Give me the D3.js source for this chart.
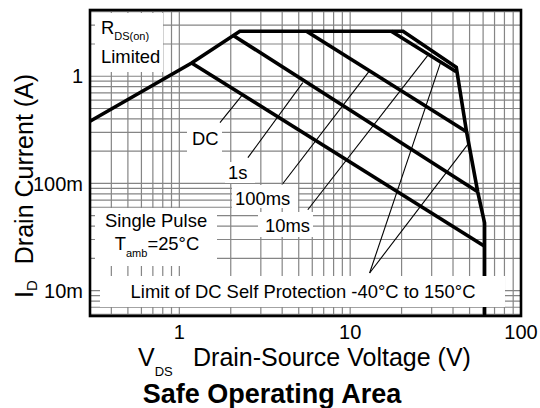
<!DOCTYPE html>
<html>
<head>
<meta charset="utf-8">
<script src="https://cdn.jsdelivr.net/npm/d3@7"></script>
<style>
  body { margin: 0; background: #fff; }
  svg text { font-family: "Liberation Sans", Arial, sans-serif; fill: #000; }
</style>
</head>
<body>
<svg id="chart" width="540" height="408"></svg>
<script>
// axis ticks
const xTickValues = [1, 10, 100];
const xTickLabels = ["1", "10", "100"];
const yTickValues = [0.01, 0.1, 1];
const yTickLabels = ["10m", "100m", "1"];

// [VDS (V), ID (A)]
const envelope = [[0.3, 0.38], [1.18, 1.33], [2.26, 2.63], [20.4, 2.63], [41.8, 1.21],
                  [48.0, 0.304], [55.8, 0.0836], [61.2, 0.0429], [61.2, 0.004]];
const dcLine = [[1.18, 1.33], [61.2, 0.026]];
const line1s = [[2.07, 2.40], [55.8, 0.0836]];
const line100ms = [[5.55, 2.63], [48.0, 0.304]];
const line10ms = [[17.4, 2.63], [41.8, 1.1]];

// leader lines for the labels
const leaders = [
  [[1.73, 0.369], [2.32, 0.66]],
  [[2.52, 0.174], [5.28, 0.873]],
  [[4.03, 0.0993], [13.0, 1.13]],
  [[5.65, 0.0568], [28.4, 1.56]],
  [[13.0, 0.0146], [33.8, 1.34]],
  [[13.0, 0.0146], [48.7, 0.23]]
];

const svg = d3.select("#chart");
const margin = {top: 10, right: 19, bottom: 92, left: 90};
const width = 540 - margin.left - margin.right;
const height = 408 - margin.top - margin.bottom;

const x = d3.scaleLog().domain([0.3, 100]).range([0, width]);
const y = d3.scaleLog().domain([0.0058, 4.15]).range([height, 0]);

const g = svg.append("g").attr("transform", `translate(${margin.left},${margin.top})`);

g.append("clipPath").attr("id", "clip")
  .append("rect").attr("width", width).attr("height", height);

// grid
const grid = g.append("g").attr("stroke", "#858585").attr("stroke-width", 1.2);
grid.selectAll(".vx").data(x.ticks()).enter().append("line")
  .attr("x1", d => x(d)).attr("x2", d => x(d))
  .attr("y1", 0).attr("y2", height);
grid.selectAll(".hy").data(y.ticks()).enter().append("line")
  .attr("y1", d => y(d)).attr("y2", d => y(d))
  .attr("x1", 0).attr("x2", width);

const line = d3.line().x(d => x(d[0])).y(d => y(d[1]));
const plot = g.append("g").attr("clip-path", "url(#clip)");

plot.selectAll(".leader").data(leaders).enter().append("path")
  .attr("d", line).attr("fill", "none").attr("stroke", "#000").attr("stroke-width", 1.1);

[dcLine, line1s, line100ms, line10ms, envelope].forEach(s => {
  plot.append("path").datum(s).attr("d", line)
    .attr("fill", "none").attr("stroke", "#000")
    .attr("stroke-width", 3.6).attr("stroke-linejoin", "miter");
});

// label boxes (page coordinates)
const boxes = [
  [95, 13, 68, 59],
  [187, 123, 35, 29],
  [225, 162, 30, 21],
  [232, 185, 66, 23],
  [258, 212, 55, 25],
  [95, 208, 122, 58],
  [100, 276, 405, 31]
];
svg.selectAll(".box").data(boxes).enter().append("rect")
  .attr("x", d => d[0]).attr("y", d => d[1])
  .attr("width", d => d[2]).attr("height", d => d[3])
  .attr("fill", "#fff");

const ann = svg.append("g").attr("font-size", 18.4);
let t = ann.append("text").attr("x", 101).attr("y", 34);
t.append("tspan").text("R");
t.append("tspan").attr("font-size", 11).attr("dy", 6).text("DS(on)");
ann.append("text").attr("x", 101).attr("y", 63).text("Limited");
ann.append("text").attr("x", 192).attr("y", 145).text("DC");
ann.append("text").attr("x", 228).attr("y", 179).text("1s");
ann.append("text").attr("x", 235).attr("y", 205).text("100ms");
ann.append("text").attr("x", 265).attr("y", 232).text("10ms");
ann.append("text").attr("x", 156).attr("y", 227).attr("text-anchor", "middle").text("Single Pulse");
t = ann.append("text").attr("x", 157).attr("y", 250).attr("text-anchor", "middle");
t.append("tspan").text("T");
t.append("tspan").attr("font-size", 11).attr("dy", 7).text("amb");
t.append("tspan").attr("dy", -7).text("=25°C");
ann.append("text").attr("x", 303).attr("y", 298).attr("text-anchor", "middle")
  .text("Limit of DC Self Protection -40°C to 150°C");

// frame
g.append("rect").attr("width", width).attr("height", height)
  .attr("fill", "none").attr("stroke", "#000").attr("stroke-width", 2.6);

// tick labels
g.selectAll(".xl").data(xTickValues).enter().append("text")
  .attr("x", d => x(d)).attr("y", height + 23)
  .attr("text-anchor", "middle").attr("font-size", 20)
  .text((d, i) => xTickLabels[i]);
g.selectAll(".yl").data(yTickValues).enter().append("text")
  .attr("x", -7).attr("y", d => y(d)).attr("dy", "0.36em")
  .attr("text-anchor", "end").attr("font-size", 20)
  .text((d, i) => yTickLabels[i]);

// axis titles
t = svg.append("text").attr("x", 138).attr("y", 366).attr("font-size", 25);
t.append("tspan").text("V");
t.append("tspan").attr("font-size", 13).attr("dy", 10).text("DS");
t.append("tspan").attr("x", 193).attr("dy", -10).text("Drain-Source Voltage (V)");

t = svg.append("text").attr("transform", "translate(33,298) rotate(-90)").attr("font-size", 25);
t.append("tspan").text("I");
t.append("tspan").attr("font-size", 15).attr("dy", 4).text("D");
t.append("tspan").attr("dx", 16).attr("dy", -4).text("Drain Current (A)");

svg.append("text").attr("x", 272).attr("y", 403).attr("text-anchor", "middle")
  .attr("font-size", 27).attr("font-weight", "bold").text("Safe Operating Area");
</script>
</body>
</html>
